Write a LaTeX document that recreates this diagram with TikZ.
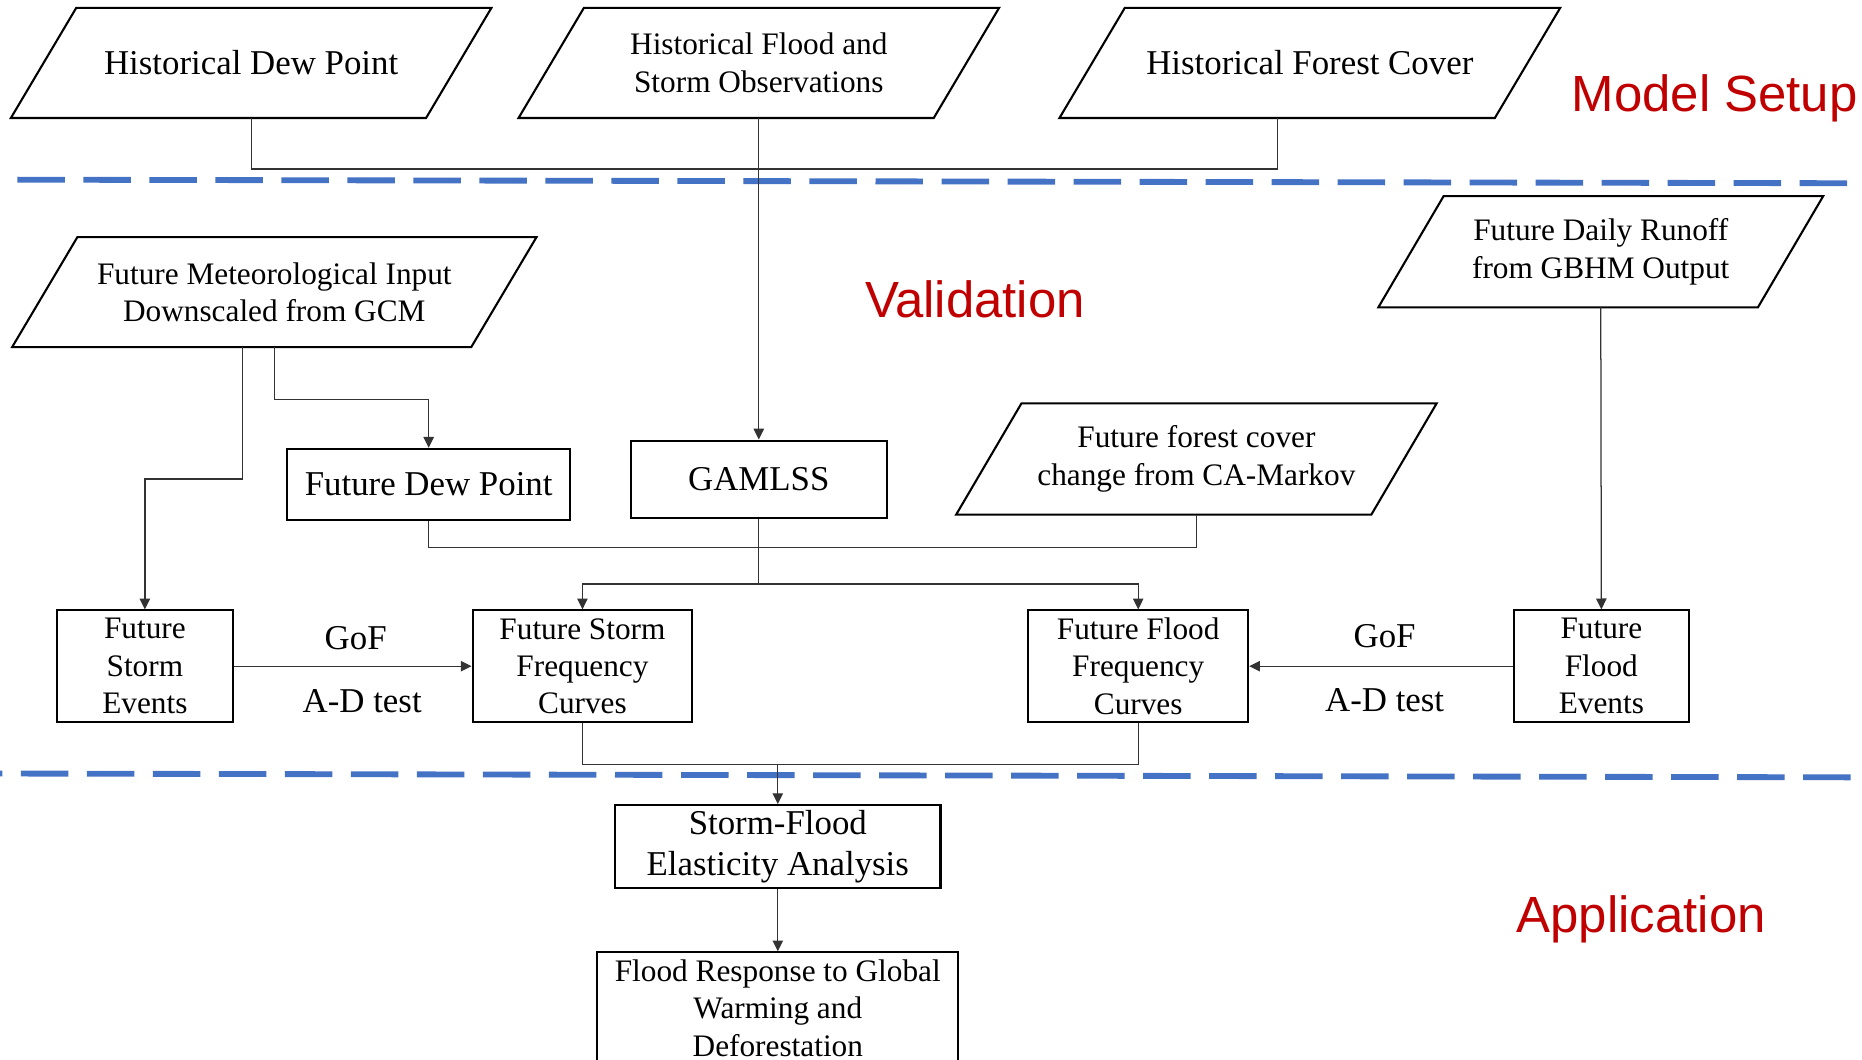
\documentclass[tikz,border=0pt]{standalone}
\usepackage{fontspec}
\setmainfont{Liberation Serif}
\newfontfamily\labelfont{Liberation Sans}
\usepackage{xcolor}
\usepackage{tikz}
\usetikzlibrary{shapes.geometric, arrows.meta, positioning, calc}
\definecolor{sepblue}{HTML}{4472C4}
\definecolor{stagered}{HTML}{C00000}
\newcommand{\bigtxt}{\fontsize{16.7}{20}\selectfont}
\newcommand{\smalltxt}{\fontsize{15}{17.9}\selectfont}

\begin{document}
\begin{tikzpicture}[
        x=0.02cm, y=-0.02cm,
        databox/.style={rectangle, inner sep=0pt, minimum height=1.84cm, align=center},
        procbox/.style={rectangle, draw=black, line width=1pt, inner sep=0pt, align=center},
        linkline/.style={line width=0.6pt, color=black!80},
        arrowline/.style={linkline, -{Triangle[length=5.2pt, width=5pt]}},
        sepline/.style={line width=2.8pt, color=sepblue, dash pattern=on 0.8cm off 0.312cm},
        stagelabel/.style={font=\labelfont\fontsize{24.4}{28}\selectfont, text=stagered, anchor=base},
        testlabel/.style={font=\bigtxt, anchor=base}
    ]
        \useasboundingbox (0,0) rectangle (1568,892);

        % Stage separators
        \draw[sepline] (14.6,151.3) -- (1556,154.3);
        \draw[sepline] (-38,651.3) -- (1560,654.6);

        % Historical inputs
        \node[databox, minimum width=6.98cm, font=\bigtxt] (hdp) at (211.5,53) {Historical Dew Point};
        \node[databox, minimum width=6.98cm, font=\smalltxt] (hfso) at (639,53) {Historical Flood and\\ Storm Observations};
        \node[databox, minimum width=7.32cm, font=\bigtxt] (hfc) at (1103,53) {Historical Forest Cover};

        % Future inputs
        \node[databox, minimum width=7.72cm, font=\smalltxt] (fmi) at (231,246) {Future Meteorological Input\\ Downscaled from GCM};
        \node[databox, minimum width=6.38cm, minimum height=1.86cm, font=\smalltxt] (fdr) at (1348,212) {Future Daily Runoff\\ from GBHM Output};
        \node[databox, minimum width=6.98cm, minimum height=1.86cm, font=\smalltxt] (ffc) at (1007.5,386.5) {Future forest cover\\ change from CA-Markov};

        % slanted outlines of the data inputs
        \foreach \n in {hdp,hfso,hfc,fmi,fdr,ffc}
            \draw[line width=1pt] ([xshift=-0.55cm]\n.south west) -- ([xshift=-0.55cm]\n.south east)
                -- ([xshift=0.55cm]\n.north east) -- ([xshift=0.55cm]\n.north west) -- cycle;

        % Model and derived series
        \node[procbox, minimum width=4.76cm, minimum height=1.2cm, font=\bigtxt] (fdp) at (361,408) {Future Dew Point};
        \node[procbox, minimum width=4.32cm, minimum height=1.3cm, font=\bigtxt] (gamlss) at (639,403.5) {GAMLSS};
        \node[procbox, minimum width=2.96cm, minimum height=1.88cm, font=\smalltxt] (fse) at (122,561) {Future\\ Storm\\ Events};
        \node[procbox, minimum width=3.7cm, minimum height=1.88cm, font=\smalltxt] (fsfc) at (490.5,561) {Future Storm\\ Frequency\\ Curves};
        \node[procbox, minimum width=3.7cm, minimum height=1.88cm, font=\smalltxt] (fffc) at (958.5,561) {Future Flood\\ Frequency\\ Curves};
        \node[procbox, minimum width=2.94cm, minimum height=1.88cm, font=\smalltxt] (ffe) at (1348.5,561) {Future\\ Flood\\ Events};

        % Application
        \node[procbox, minimum width=5.48cm, minimum height=1.4cm, font=\bigtxt] (sfea) at (655,713) {Storm-Flood\\ Elasticity Analysis};
        \node[procbox, minimum width=6.08cm, minimum height=1.88cm, font=\smalltxt] (frgw) at (655,849) {Flood Response to Global\\ Warming and\\ Deforestation};

        % Test labels
        \node[testlabel] (gofs) at (299.5,547) {GoF};
        \node[testlabel] (ads) at (305,600) {A-D test};
        \node[testlabel] (goff) at (1166,545) {GoF};
        \node[testlabel] (adf) at (1166,599) {A-D test};

        % Stage labels
        \node[stagelabel] (setup) at (1444,94) {Model Setup};
        \node[stagelabel] (valid) at (821,267) {Validation};
        \node[stagelabel] (appl) at (1382,785) {Application};

        % Connectors
        \draw[linkline] (hdp.south) -- ++(0,43) -| ([xshift=-0.55cm]hfc.south);
        \draw[arrowline] (hfso.south) -- (gamlss.north);
        \draw[arrowline] ([xshift=-0.54cm]fmi.south) -- ++(0,111) -| (fse.north);
        \draw[arrowline] (fmi.south) -- ++(0,44) -| (fdp.north);
        \draw[linkline] (fdp.south) -- ++(0,22) -| (ffc.south);
        \coordinate (split) at ($(gamlss.south)+(0,55)$);
        \draw[linkline] (gamlss.south) -- (split);
        \draw[arrowline] (split) -| (fsfc.north);
        \draw[arrowline] (split) -| (fffc.north);
        \draw[arrowline] (fdr.south) -- (ffe.north);
        \draw[arrowline] (fse.east) -- (fsfc.west);
        \draw[arrowline] (ffe.west) -- (fffc.east);
        \coordinate (merge) at ($(fsfc.south)+(0,35)$);
        \draw[linkline] (fsfc.south) -- (merge) -| (fffc.south);
        \draw[arrowline] (merge -| sfea.north) -- (sfea.north);
        \draw[arrowline] (sfea.south) -- (frgw.north);
    \end{tikzpicture}
\end{document}
